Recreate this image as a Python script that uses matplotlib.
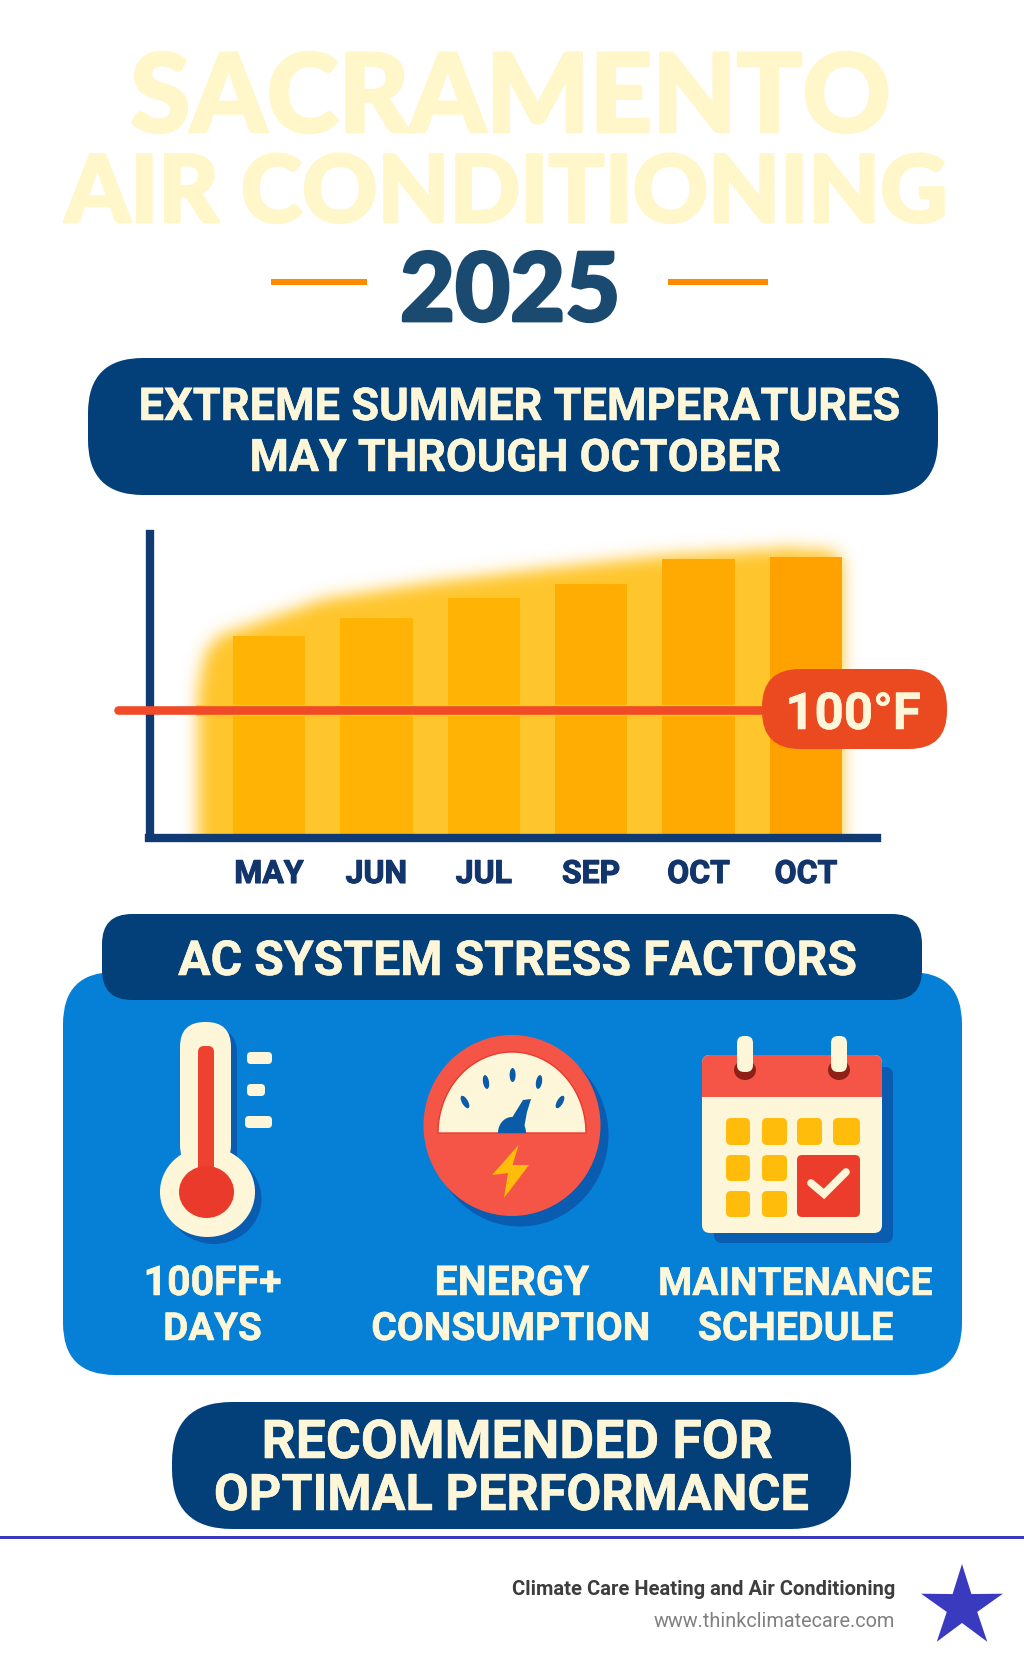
import matplotlib
matplotlib.use("Agg")
import matplotlib.pyplot as plt
import matplotlib.patheffects as pe
import numpy as np
from matplotlib.patches import FancyBboxPatch, Ellipse, Polygon, Rectangle
from matplotlib.path import Path

W, H = 1024, 1666

# chart values (bar height against the 100 F line)
months = ["MAY", "JUN", "JUL", "SEP", "OCT", "OCT"]
bar_values = [160, 174, 190, 202, 222, 223]
bar_colors = ["#FFB405", "#FFB405", "#FFB405", "#FFAD03", "#FFAA02", "#FFA200"]
threshold = 100
glow_x = [-0.68, -0.66, -0.60, -0.475, 0.51, 1.56, 2.61, 3.65, 4.85, 5.21, 5.35, 5.35]
glow_y = [-30, 120, 146, 160, 190, 204, 215, 225, 231, 229, 222, -30]

NAVY = "#03407A"
CREAM = "#FDF6D8"
BLUE = "#0680D7"
SHADOW = "#0A5CB0"
RED = "#F55546"
DEEP_RED = "#EC3D2C"
YELLOW = "#FFBC0A"
INDIGO = "#3A3ABE"
FONT = "Roboto"

fig = plt.figure(figsize=(W / 100, H / 100), dpi=100, facecolor="white")

# chart axes: baseline at y=834 px, 107.4 px per month, 1.24 px per degree
ax = fig.add_axes([110 / W, 1 - 834 / H, 850 / W, 314 / H], zorder=1)
ax.patch.set_alpha(0)
xlim = ((110 - 269) / 107.4, (960 - 269) / 107.4)
ylim = (0, 314 / 1.24)

# soft glow behind the bars: blur the envelope outline with a small gaussian
gx, gy = np.meshgrid(np.linspace(xlim[0], xlim[1], 425), np.linspace(ylim[0], ylim[1], 157))
mask = Path(np.c_[glow_x, glow_y]).contains_points(np.c_[gx.ravel(), gy.ravel()]).reshape(gx.shape).astype(float)
mask[0:1] = mask[1]
kernel = np.exp(-np.arange(-12, 13) ** 2 / (2 * 4.0 ** 2))
kernel /= kernel.sum()
padded = np.pad(mask, 12, mode="edge")
blur = np.apply_along_axis(lambda v: np.convolve(v, kernel, mode="same"), 0, padded)
blur = np.apply_along_axis(lambda v: np.convolve(v, kernel, mode="same"), 1, blur)[12:-12, 12:-12]
glow = np.zeros(blur.shape + (4,))
glow[..., :3] = matplotlib.colors.to_rgb("#FFC52C")
glow[..., 3] = blur
ax.imshow(glow, extent=(*xlim, *ylim), origin="lower", aspect="auto", zorder=0, interpolation="bilinear")
ax.set_xlim(xlim)
ax.set_ylim(ylim)

ax.bar(range(len(months)), bar_values, width=0.675, color=bar_colors, zorder=1)

ax.plot([-0.68, 4.7], [threshold, threshold], color="#FFCF10", lw=8.2, solid_capstyle="butt", zorder=2)
ax.plot([-1.41, 4.7], [threshold, threshold], color="#F04A28", lw=6.2, solid_capstyle="round", zorder=3)

ax.spines[["top", "right"]].set_visible(False)
ax.spines["left"].set_position(("data", (149.5 - 269) / 107.4))
ax.spines["left"].set_bounds(0, 300 / 1.24)
ax.spines["bottom"].set_bounds((149 - 269) / 107.4, (877 - 269) / 107.4)
ax.spines["bottom"].set_position(("outward", 3))
for side in ["left", "bottom"]:
    ax.spines[side].set_color("#0F3A72")
    ax.spines[side].set_linewidth(6)
ax.set_yticks([])
ax.set_xticks(range(len(months)))
ax.set_xticklabels(months, family=FONT, fontweight="bold", fontsize=23, color="#12356B")
ax.tick_params(axis="x", length=0, pad=15)
for tick in ax.get_xticklabels():
    tick.set_path_effects([pe.withStroke(linewidth=0.8, foreground="#12356B")])

# page axes in pixel coordinates for the infographic parts
page = fig.add_axes([0, 0, 1, 1], zorder=2)
page.set_xlim(0, W)
page.set_ylim(H, 0)
page.axis("off")


def box(x0, y0, x1, y1, r, color, z=2):
    page.add_patch(FancyBboxPatch((x0, y0), x1 - x0, y1 - y0, boxstyle=f"round,pad=0,rounding_size={r}",
                                  fc=color, ec="none", zorder=z))


def label(x0, x1, base, s, px, color=CREAM, family=FONT, weight="bold", z=6, stroke=0.4):
    # x0, x1 are the edges of the text, px is the font size in pixels
    t = page.text((x0 + x1) / 2, base, s, ha="center", va="baseline", fontsize=px * 0.72,
                  color=color, family=family, fontweight=weight, zorder=z)
    t.set_path_effects([pe.withStroke(linewidth=stroke, foreground=color)])


# title
label(135, 886, 132, "SACRAMENTO", 109, color="#FFF6C9", family="Lato", weight="black", stroke=2)
label(69, 944, 222, "AIR CONDITIONING", 93, color="#FFF6C9", family="Lato", weight="black", stroke=2)
label(402, 618, 321, "2025", 95, color="#1A4A70", family="Lato", weight="black", stroke=2)
page.add_patch(Rectangle((271, 279), 96, 6, fc="#FF8A00", ec="none"))
page.add_patch(Rectangle((668, 279), 100, 6, fc="#FF8A00", ec="none"))

# first banner
box(88, 358, 938, 495, 55, NAVY)
label(138, 899, 420, "EXTREME SUMMER TEMPERATURES", 45.2)
label(252, 778, 471, "MAY THROUGH OCTOBER", 44.8)

# 100F badge
box(762, 669, 947, 749, 38, "#EB4A20")
label(787, 919, 729, "100°F", 51)

# stress factors panel
box(63, 972, 962, 1375, 52, BLUE)
box(102, 914, 922, 1000, 30, NAVY, z=3)
label(179, 857, 975, "AC SYSTEM STRESS FACTORS", 48.2)

# thermometer
box(186, 1028, 237, 1180, 25, SHADOW, z=3)
page.add_patch(Ellipse((214, 1199), 95, 90, fc=SHADOW, ec="none", zorder=3))
box(180, 1022, 231, 1170, 25, CREAM, z=4)
page.add_patch(Ellipse((207.5, 1192), 95, 90, fc=CREAM, ec="none", zorder=4))
box(198, 1046, 214, 1180, 6, "#EE4231", z=5)
page.add_patch(Ellipse((206.5, 1192), 55, 52, fc="#E93A2B", ec="none", zorder=5))
box(247, 1052, 272, 1064, 4, CREAM, z=4)
box(247, 1084, 265, 1096, 4, CREAM, z=4)
box(245, 1116, 272, 1128, 4, CREAM, z=4)

# gauge
page.add_patch(Ellipse((520, 1135), 177, 183, fc=SHADOW, ec="none", zorder=3))
page.add_patch(Ellipse((512, 1125.5), 177, 181, fc=RED, ec="none", zorder=4))
t = np.linspace(0, np.pi, 80)
page.add_patch(Polygon(np.c_[512 + 74 * np.cos(t), 1133 - 81 * np.sin(t)], fc=CREAM, ec="#E93A2B", lw=1, zorder=5))
gauge_ticks = [(465, 1102, 30), (486, 1082, 10), (512.6, 1075, 0), (539, 1082, -10), (560, 1102, -30)]
for tx, ty, ang in gauge_ticks:
    page.add_patch(Ellipse((tx, ty), 6, 14, angle=-ang, fc="#0A5CA8", ec="none", zorder=6))
page.add_patch(Polygon(np.c_[512 + 14 * np.cos(t), 1133 - 16 * np.sin(t)], fc="#0A5CA8", ec="none", zorder=6))
page.add_patch(Polygon([(510, 1121), (523, 1100), (531, 1099), (527, 1112), (524, 1128)], fc="#0A5CA8", ec="none", zorder=6))
page.add_patch(Polygon([(518.6, 1145), (492, 1175), (508, 1173), (504, 1198), (529, 1165), (512.6, 1165)],
                       fc=YELLOW, ec="none", zorder=6))

# calendar
box(714, 1067, 893, 1243, 8, SHADOW, z=3)
box(702, 1055, 882, 1233, 8, CREAM, z=4)
box(702, 1055, 882, 1097, 8, RED, z=5)
page.add_patch(Rectangle((702, 1080), 180, 17, fc=RED, ec="none", zorder=5))
for ring_x in [745, 839]:
    page.add_patch(Ellipse((ring_x, 1070), 22, 20, fc="#8E2016", ec="none", zorder=6))
    box(ring_x - 8, 1036, ring_x + 8, 1072, 7, CREAM, z=7)
cell_cols = [(726, 750), (762, 787), (797, 822), (833, 860)]
cell_rows = [(1118, 1145), (1155, 1181), (1191, 1217)]
for r, (y0, y1) in enumerate(cell_rows):
    for c, (x0, x1) in enumerate(cell_cols):
        if r > 0 and c > 1:
            continue
        box(x0, y0, x1, y1, 5, YELLOW, z=6)
box(797, 1155, 860, 1217, 5, DEEP_RED, z=6)
page.plot([811, 824, 846], [1183, 1194, 1172], color=CREAM, lw=5.5, solid_capstyle="round",
          solid_joinstyle="miter", zorder=7)

# panel labels
label(144, 281, 1295, "100FF+", 41)
label(144, 281, 1340, "DAYS", 38.5)
label(435, 589, 1295, "ENERGY", 41)
label(373, 649, 1340, "CONSUMPTION", 39)
label(660, 931, 1295, "MAINTENANCE", 39)
label(698, 893, 1340, "SCHEDULE", 39.5)

# last banner
box(172, 1402, 851, 1529, 60, NAVY)
label(263, 771, 1458, "RECOMMENDED FOR", 53.5)
label(216, 807, 1510, "OPTIMAL PERFORMANCE", 50.5)

# footer
page.add_patch(Rectangle((0, 1536), W, 3, fc=INDIGO, ec="none"))
page.text(895, 1595, "Climate Care Heating and Air Conditioning", ha="right", va="baseline",
          fontsize=14.5, family="Roboto", fontweight="bold", color="#3D3D3D")
page.text(895, 1627, "www.thinkclimatecare.com", ha="right", va="baseline",
          fontsize=14.3, family="Roboto", color="#808080")
a = np.pi / 2 + np.arange(10) * np.pi / 5
rad = np.where(np.arange(10) % 2 == 0, 43, 16)
page.add_patch(Polygon(np.c_[962 + rad * np.cos(a), 1607 - rad * np.sin(a)], fc=INDIGO, ec="none"))

fig.savefig("out.png", dpi=100)
